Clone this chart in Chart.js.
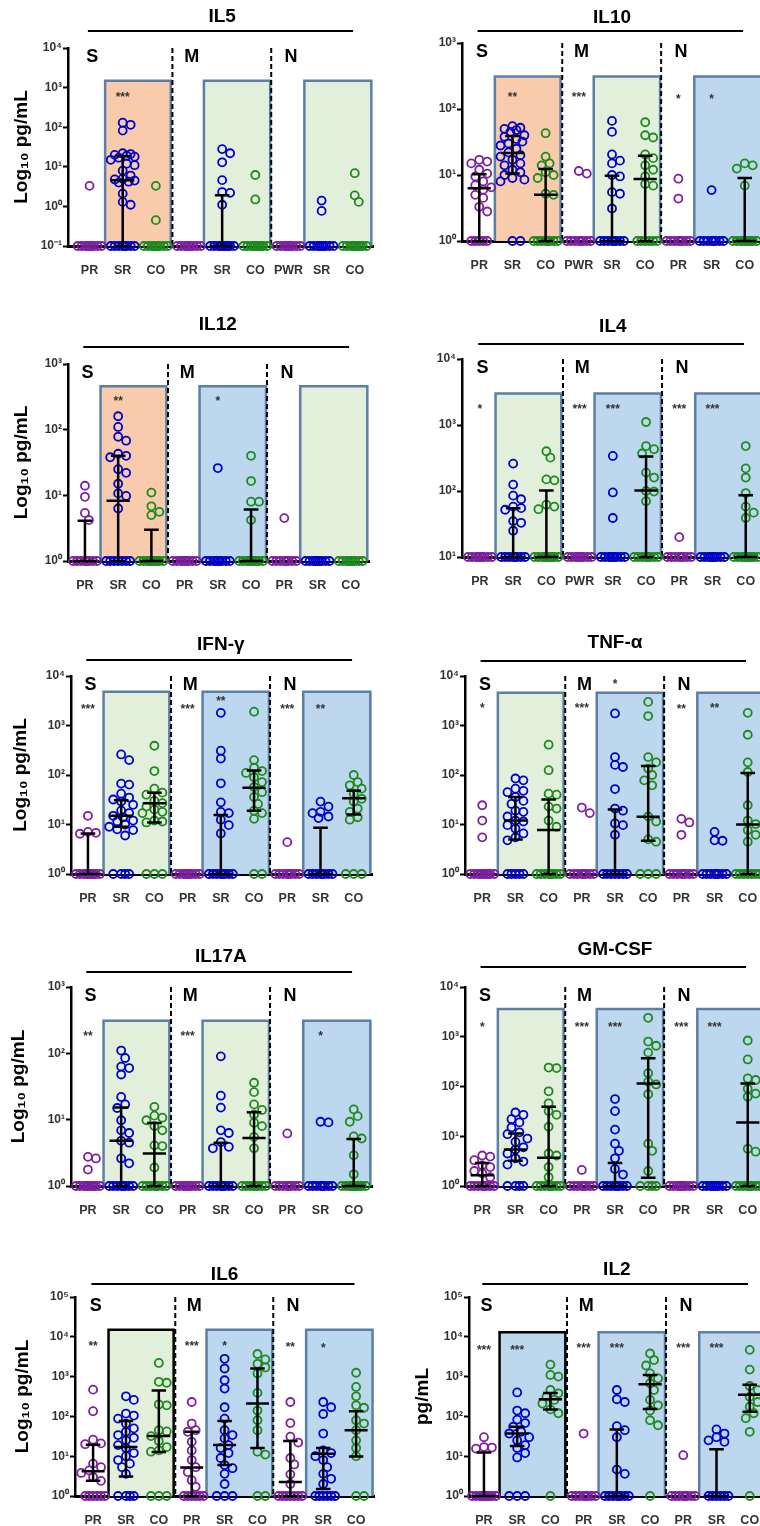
<!DOCTYPE html>
<html lang="pt">
<head>
<meta charset="utf-8">
<title>Citocinas</title>
<script src="https://cdn.jsdelivr.net/npm/chart.js@4.4.1/dist/chart.umd.min.js"></script>
<style>
  html, body { margin: 0; padding: 0; background: #fff; }
  #painel { position: relative; width: 760px; height: 1526px; overflow: hidden; }
  #painel canvas { position: absolute; }
</style>
</head>
<body>
<div id="painel"></div>
<script>
// categorias (eixo x)
const catsPadrao = ['PR', 'SR', 'CO', 'PR', 'SR', 'CO', 'PR', 'SR', 'CO'];
const il5Cats = ['PR', 'SR', 'CO', 'PR', 'SR', 'CO', 'PWR', 'SR', 'CO'];
const il10Cats = ['PR', 'SR', 'CO', 'PWR', 'SR', 'CO', 'PR', 'SR', 'CO'];

// IL5 (pg/mL, limite 0.1)
const il5Vals = [
  [3.3, 0.1, 0.1, 0.1, 0.1, 0.1, 0.1, 0.1, 0.1, 0.1],
  [130, 115, 82, 22, 21, 20, 19, 18, 17, 15, 12, 11, 8, 6, 5, 4.8, 4.5, 4.2, 4, 2.1, 1.3, 1.1, 0.1, 0.1, 0.1, 0.1, 0.1, 0.1, 0.1, 0.1],
  [3.3, 0.45, 0.1, 0.1, 0.1, 0.1, 0.1, 0.1, 0.1, 0.1, 0.1],
  [0.1, 0.1, 0.1, 0.1, 0.1, 0.1, 0.1, 0.1, 0.1],
  [28, 22, 13, 4.6, 2.3, 2.2, 1.1, 0.1, 0.1, 0.1, 0.1, 0.1, 0.1, 0.1, 0.1, 0.1, 0.1],
  [6.2, 1.5, 0.1, 0.1, 0.1, 0.1, 0.1, 0.1, 0.1, 0.1, 0.1, 0.1],
  [0.1, 0.1, 0.1, 0.1, 0.1, 0.1, 0.1, 0.1, 0.1],
  [1.4, 0.77, 0.1, 0.1, 0.1, 0.1, 0.1, 0.1, 0.1, 0.1, 0.1],
  [6.9, 1.9, 1.3, 0.1, 0.1, 0.1, 0.1, 0.1, 0.1, 0.1, 0.1, 0.1, 0.1]
];
const il5Med = [0.1, 4.6, 0.1, 0.1, 0.1, 0.1, 0.1, 0.1, 0.1];
const il5Q1 = [0.1, 0.1, 0.1, 0.1, 0.1, 0.1, 0.1, 0.1, 0.1];
const il5Q3 = [0.1, 18.6, 0.1, 0.1, 1.9, 0.1, 0.1, 0.1, 0.1];
const il5Stars = ['', '***', '', '', '', '', '', '', ''];
const il5StarY = [0, 620, 0, 0, 0, 0, 0, 0, 0];

// IL10
const il10Vals = [
  [17, 16, 15, 12, 10.5, 9.5, 8, 7, 6.5, 6, 5, 4.5, 3.3, 2.8, 1, 1, 1, 1, 1],
  [55, 52, 50, 48, 45, 40, 38, 35, 32, 30, 28, 25, 22, 20, 19, 17, 15, 14, 12, 11, 10, 9, 8.5, 8, 1, 1],
  [43, 19, 15, 14, 11, 10, 9, 5.2, 5, 1, 1, 1, 1, 1, 1, 1, 1],
  [11.5, 10.5, 1, 1, 1, 1, 1, 1, 1, 1],
  [66, 45, 20.5, 16.5, 15, 10, 9.5, 5.5, 5.2, 3.1, 1, 1, 1, 1, 1, 1, 1, 1],
  [63, 40, 37, 20.5, 18, 14, 12, 9.5, 7.3, 6.9, 1, 1, 1, 1, 1, 1],
  [8.8, 4.4, 1, 1, 1, 1, 1, 1, 1, 1],
  [5.9, 1, 1, 1, 1, 1, 1, 1, 1],
  [15, 14, 12.5, 6.9, 1, 1, 1, 1, 1, 1, 1, 1, 1, 1]
];
const il10Med = [6.3, 21.6, 5.0, 1, 1, 8.7, 1, 1, 1];
const il10Q1 = [1, 10.5, 1, 1, 1, 1, 1, 1, 1];
const il10Q3 = [10.3, 39, 12.3, 1, 9.7, 19.6, 1, 1, 9.0];
const il10Stars = ['', '**', '', '***', '', '', '*', '*', ''];
const il10StarY = [0, 160, 0, 160, 0, 0, 148, 148, 0];

// IL12
const il12Vals = [
  [14, 9.5, 5.4, 4.2, 1, 1, 1, 1, 1, 1, 1, 1],
  [160, 110, 78, 68, 43, 40, 38, 25, 22, 15, 10.7, 9.8, 6.3, 1, 1, 1, 1, 1, 1, 1],
  [11, 6.8, 5.6, 5, 1, 1, 1, 1, 1, 1, 1, 1, 1, 1],
  [1, 1, 1, 1, 1, 1, 1, 1, 1],
  [26, 1, 1, 1, 1, 1, 1, 1, 1, 1],
  [40, 16.5, 8, 8, 4.2, 1, 1, 1, 1, 1, 1, 1, 1, 1, 1],
  [4.5, 1, 1, 1, 1, 1, 1, 1, 1],
  [1, 1, 1, 1, 1, 1, 1, 1, 1],
  [1, 1, 1, 1, 1, 1, 1, 1, 1]
];
const il12Med = [1, 8.3, 1, 1, 1, 1, 1, 1, 1];
const il12Q1 = [1, 1, 1, 1, 1, 1, 1, 1, 1];
const il12Q3 = [4.1, 40, 3.0, 1, 1, 6.1, 1, 1, 1];
const il12Stars = ['', '**', '', '', '*', '', '', '', ''];
const il12StarY = [0, 290, 0, 0, 290, 0, 0, 0, 0];

// IL4 (limite 10)
const il4Vals = [
  [10, 10, 10, 10, 10, 10, 10, 10, 10],
  [260, 125, 85, 75, 58, 55, 52, 35, 33, 25, 10, 10, 10, 10, 10, 10, 10, 10],
  [400, 320, 150, 145, 62, 58, 53, 10, 10, 10, 10, 10, 10, 10, 10, 10, 10],
  [10, 10, 10, 10, 10, 10, 10, 10, 10],
  [340, 95, 39, 10, 10, 10, 10, 10, 10, 10, 10, 10],
  [1110, 480, 430, 370, 190, 160, 100, 98, 70, 10, 10, 10, 10, 10, 10, 10, 10],
  [20, 10, 10, 10, 10, 10, 10, 10, 10],
  [10, 10, 10, 10, 10, 10, 10, 10, 10],
  [480, 220, 160, 93, 58, 47, 39, 10, 10, 10, 10, 10, 10, 10, 10, 10, 10]
];
const il4Med = [10, 10, 10, 10, 10, 102, 10, 10, 10];
const il4Q1 = [10, 10, 10, 10, 10, 10, 10, 10, 10];
const il4Q3 = [10, 55, 102, 10, 10, 333, 10, 10, 86];
const il4Stars = ['*', '', '', '***', '***', '', '***', '***', ''];
const il4StarY = [1860, 0, 0, 1860, 1860, 0, 1860, 1860, 0];

// IFN-γ
const ifnVals = [
  [15, 7.1, 6.8, 6.5, 1, 1, 1, 1, 1, 1, 1, 1, 1, 1],
  [260, 200, 67, 64, 42, 35, 32, 29, 25, 19, 17, 15, 14, 12, 11.5, 10, 9, 8, 7.7, 6, 1, 1, 1, 1],
  [390, 120, 53, 44, 40, 30, 27, 23, 20, 18, 17, 12, 11.5, 11, 1, 1, 1],
  [1, 1, 1, 1, 1, 1, 1, 1, 1],
  [1800, 310, 215, 68, 28, 18, 17, 12.5, 9.7, 6.6, 1, 1, 1, 1, 1, 1, 1, 1],
  [1900, 200, 140, 120, 110, 90, 72, 57, 45, 36, 26, 19, 17, 13, 1, 1],
  [4.4, 1, 1, 1, 1, 1, 1, 1, 1],
  [29, 23, 18, 17, 14.5, 13.5, 1, 1, 1, 1, 1, 1, 1, 1],
  [100, 72, 62, 53, 42, 33, 29, 21, 18, 14, 12.5, 1, 1, 1]
];
const ifnMed = [1, 15, 27, 1, 1, 55, 1, 1, 34];
const ifnQ1 = [1, 9, 11, 1, 1, 19, 1, 1, 16];
const ifnQ3 = [6.6, 31, 44, 1, 15.5, 124, 1, 8.6, 48];
const ifnStars = ['***', '', '', '***', '**', '', '***', '**', ''];
const ifnStarY = [2300, 0, 0, 2300, 3300, 0, 2300, 2300, 0];

// TNF-α
const tnfVals = [
  [24.5, 12, 5.5, 1, 1, 1, 1, 1, 1, 1, 1, 1, 1],
  [85, 78, 53, 48, 45, 36, 30, 26, 19, 18, 14.5, 12, 11.5, 9.7, 8.3, 6.6, 5.5, 4.8, 1, 1, 1, 1, 1],
  [410, 125, 42, 40, 23, 21, 12, 9, 1, 1, 1, 1, 1, 1, 1, 1],
  [22, 17, 1, 1, 1, 1, 1, 1, 1, 1],
  [1750, 230, 160, 145, 52, 21, 19, 10.5, 9.7, 6.2, 1, 1, 1, 1, 1, 1, 1],
  [3000, 1550, 230, 180, 135, 100, 78, 62, 14.5, 11.5, 5, 4.5, 1, 1, 1],
  [13, 11, 6.2, 1, 1, 1, 1, 1, 1, 1, 1],
  [7.1, 4.8, 4.7, 1, 1, 1, 1, 1, 1, 1, 1],
  [1800, 650, 180, 115, 24.5, 12, 10.2, 7.7, 6.2, 4.5, 1, 1, 1, 1, 1, 1, 1]
];
const tnfMed = [1, 12, 7.7, 1, 1, 14.4, 1, 1, 10];
const tnfQ1 = [1, 5, 1, 1, 1, 4.7, 1, 1, 1];
const tnfQ3 = [1, 36, 32, 1, 20, 152, 1, 1, 110];
const tnfStars = ['*', '', '', '***', '*', '', '**', '**', ''];
const tnfStarY = [2400, 0, 0, 2400, 7200, 0, 2300, 2400, 0];

// IL17A
const il17Vals = [
  [2.75, 2.6, 1.77, 1, 1, 1, 1, 1, 1, 1, 1, 1, 1],
  [110, 85, 63, 60, 48, 22, 17, 15, 9.8, 6.9, 6.3, 4.8, 4.5, 2.6, 2.2, 1, 1, 1, 1, 1, 1, 1, 1],
  [15.6, 11.5, 10.7, 9.8, 8, 6.9, 4.1, 4.0, 1.9, 1, 1, 1, 1, 1, 1, 1, 1],
  [1, 1, 1, 1, 1, 1, 1, 1, 1],
  [90, 23, 15.2, 6.9, 6.3, 4.6, 3.9, 3.7, 1, 1, 1, 1, 1, 1, 1, 1],
  [36, 26, 17, 14, 12, 9, 8, 5.5, 3.7, 1, 1, 1, 1, 1, 1, 1, 1],
  [6.2, 1, 1, 1, 1, 1, 1, 1, 1],
  [9.3, 9.1, 1, 1, 1, 1, 1, 1, 1, 1],
  [14.3, 11.3, 9.3, 5.6, 5.2, 2.9, 1.5, 1, 1, 1, 1, 1, 1, 1, 1, 1, 1]
];
const il17Med = [1, 4.8, 3.1, 1, 1, 5.3, 1, 1, 1];
const il17Q1 = [1, 1, 1, 1, 1, 1, 1, 1, 1];
const il17Q3 = [1, 15.2, 8.9, 1, 4.5, 12.9, 1, 1, 5.1];
const il17Stars = ['**', '', '', '***', '', '', '', '*', ''];
const il17StarY = [190, 0, 0, 190, 0, 0, 0, 190, 0];

// GM-CSF
const gmVals = [
  [4.1, 3.9, 3.3, 2.6, 2.4, 2.0, 1.8, 1.5, 1, 1, 1, 1, 1, 1, 1, 1],
  [30, 27, 22, 19, 15, 12, 11, 9, 7.7, 6, 5.4, 4.5, 3.6, 3.1, 2.7, 1, 1, 1, 1],
  [240, 235, 80, 46, 32, 27, 15.5, 4.5, 4.1, 2.4, 1.5, 1, 1, 1, 1, 1, 1, 1, 1],
  [2.1, 1, 1, 1, 1, 1, 1, 1, 1],
  [56, 32, 13.6, 7.1, 5.1, 3.6, 2.2, 1.7, 1, 1, 1, 1, 1, 1, 1, 1],
  [2400, 800, 660, 480, 185, 125, 110, 70, 7.1, 5.1, 2.0, 1, 1, 1, 1],
  [1, 1, 1, 1, 1, 1, 1, 1, 1],
  [1, 1, 1, 1, 1, 1, 1, 1, 1],
  [840, 350, 145, 135, 90, 72, 62, 5.6, 4.9, 1, 1, 1, 1, 1, 1, 1, 1]
];
const gmMed = [1.64, 5.4, 3.7, 1, 1, 115, 1, 1, 19];
const gmQ1 = [1, 3.2, 1, 1, 1, 1.47, 1, 1, 1];
const gmQ3 = [2.9, 11.4, 39, 1, 2.9, 370, 1, 1, 115];
const gmStars = ['*', '', '', '***', '***', '', '***', '***', ''];
const gmStarY = [1700, 0, 0, 1700, 1700, 0, 1700, 1700, 0];

// IL6
const il6Vals = [
  [470, 135, 26, 21, 20, 6.5, 5.3, 4.4, 3.8, 3.0, 2.4, 1, 1, 1, 1, 1, 1],
  [320, 260, 118, 105, 88, 66, 50, 41, 34, 29, 25, 19, 16, 12, 10, 8, 6.5, 5.3, 3.6, 1, 1, 1, 1],
  [2200, 740, 700, 200, 190, 45, 42, 32, 24, 17, 14, 13, 1, 1, 1],
  [230, 66, 45, 41, 23, 14, 8, 5.3, 4, 2.5, 1.7, 1, 1, 1, 1, 1, 1],
  [2800, 1600, 810, 500, 170, 88, 45, 34, 28, 19, 16, 12, 9, 6, 5, 3.6, 2.0, 1, 1, 1],
  [3700, 2700, 2100, 1700, 1200, 390, 140, 80, 45, 13, 11, 1, 1],
  [230, 68, 31, 22, 9, 6.2, 3.5, 2.0, 1, 1, 1, 1, 1, 1, 1],
  [230, 170, 115, 37, 14, 12, 10, 8, 5.3, 3.6, 2.7, 2.0, 1, 1, 1, 1, 1, 1],
  [1250, 550, 320, 190, 165, 80, 66, 45, 25, 16, 10, 1, 1]
];
const il6Med = [4.2, 17, 32, 5.2, 19, 210, 2.25, 11.5, 45];
const il6Q1 = [2.4, 3.1, 12.7, 1, 6, 16, 1, 1.5, 9.8];
const il6Q3 = [19.5, 77, 450, 41, 77, 1600, 24, 16, 135];
const il6Stars = ['**', '', '', '***', '*', '', '**', '*', ''];
const il6StarY = [6500, 0, 0, 6300, 6500, 0, 6000, 5800, 0];

// IL2
const il2Vals = [
  [30, 17, 16.5, 15.5, 1, 1, 1, 1, 1, 1, 1, 1, 1, 1],
  [400, 140, 120, 83, 68, 55, 41, 37, 30, 25, 19, 16, 12, 9.3, 1, 1, 1],
  [2000, 1100, 1000, 460, 380, 310, 260, 210, 150, 120, 1],
  [37, 1, 1, 1, 1, 1, 1, 1, 1],
  [460, 270, 230, 57, 45, 30, 4.6, 3.6, 1, 1, 1, 1, 1, 1, 1, 1],
  [3800, 2600, 1900, 1200, 900, 680, 460, 260, 190, 140, 80, 60, 1],
  [10.6, 1, 1, 1, 1, 1, 1, 1, 1],
  [47, 37, 30, 25, 23, 1, 1, 1, 1, 1, 1],
  [4700, 1500, 580, 460, 310, 230, 175, 120, 90, 41, 1]
];
const il2Med = [1, 37, 270, 1, 1, 640, 1, 1, 350];
const il2Q1 = [1, 18, 150, 1, 1, 153, 1, 1, 130];
const il2Q3 = [12.4, 55, 390, 1, 47, 1100, 1, 15, 620];
const il2Stars = ['***', '***', '', '***', '***', '', '***', '***', ''];
const il2StarY = [5100, 5100, 0, 5600, 5600, 0, 5600, 5600, 0];

// estilos
const corRoxo = '#7E1FA3';
const corAzul = '#0000CC';
const corVerde = '#1C8A1C';
const coresCaixa = { laranja: '#F8CBAD', verde: '#E2EFDA', azul: '#BDD7EE' };
const borda = '#5B7FA6';
const faixasCaixa = [[0.47, 2.45], [3.45, 5.45], [6.48, 8.5]];
const tracejados = [2.5, 5.48];
const pxUnidade = 33.2;
const fonte = "'Liberation Sans', Arial, sans-serif";

Chart.defaults.font.family = fonte;

const paineis = [
  { titulo: 'IL5', cats: il5Cats, vals: il5Vals, med: il5Med, q1: il5Q1, q3: il5Q3, stars: il5Stars, starY: il5StarY,
    col: 0, axisX: 68, top: 48, bottom: 246, xmin: -0.65, ymin: -1, ymax: 4, caixaTop: 1500,
    caixas: ['laranja', 'verde', 'verde'], bordas: [borda, borda, borda], linhaDy: 17, tituloDy: 31, yTitulo: 'Log₁₀ pg/mL', yTituloX: 22 },
  { titulo: 'IL10', cats: il10Cats, vals: il10Vals, med: il10Med, q1: il10Q1, q3: il10Q3, stars: il10Stars, starY: il10StarY,
    col: 1, axisX: 462, top: 43, bottom: 241, xmin: -0.52, ymin: 0, ymax: 3, caixaTop: 310,
    caixas: ['laranja', 'verde', 'azul'], bordas: [borda, borda, borda], linhaDy: 12, tituloDy: 25, yTitulo: '', yTituloX: 0 },
  { titulo: 'IL12', cats: catsPadrao, vals: il12Vals, med: il12Med, q1: il12Q1, q3: il12Q3, stars: il12Stars, starY: il12StarY,
    col: 0, axisX: 68, top: 364, bottom: 561, xmin: -0.51, ymin: 0, ymax: 3, caixaTop: 460,
    caixas: ['laranja', 'azul', 'verde'], bordas: [borda, borda, borda], linhaDy: 17, tituloDy: 39, yTitulo: 'Log₁₀ pg/mL', yTituloX: 22 },
  { titulo: 'IL4', cats: il10Cats, vals: il4Vals, med: il4Med, q1: il4Q1, q3: il4Q3, stars: il4Stars, starY: il4StarY,
    col: 1, axisX: 462, top: 359, bottom: 557, xmin: -0.54, ymin: 1, ymax: 4, caixaTop: 3000,
    caixas: ['verde', 'azul', 'azul'], bordas: [borda, borda, borda], linhaDy: 15, tituloDy: 32, yTitulo: '', yTituloX: 0 },
  { titulo: 'IFN-γ', cats: catsPadrao, vals: ifnVals, med: ifnMed, q1: ifnQ1, q3: ifnQ3, stars: ifnStars, starY: ifnStarY,
    col: 0, axisX: 71, top: 676, bottom: 874, xmin: -0.51, ymin: 0, ymax: 4, caixaTop: 4800,
    caixas: ['verde', 'azul', 'azul'], bordas: [borda, borda, borda], linhaDy: 16, tituloDy: 31, yTitulo: 'Log₁₀ pg/mL', yTituloX: 21 },
  { titulo: 'TNF-α', cats: catsPadrao, vals: tnfVals, med: tnfMed, q1: tnfQ1, q3: tnfQ3, stars: tnfStars, starY: tnfStarY,
    col: 1, axisX: 465, top: 676, bottom: 874, xmin: -0.52, ymin: 0, ymax: 4, caixaTop: 4600,
    caixas: ['verde', 'azul', 'azul'], bordas: [borda, borda, borda], linhaDy: 15, tituloDy: 33, yTitulo: '', yTituloX: 0 },
  { titulo: 'IL17A', cats: catsPadrao, vals: il17Vals, med: il17Med, q1: il17Q1, q3: il17Q3, stars: il17Stars, starY: il17StarY,
    col: 0, axisX: 71, top: 987, bottom: 1186, xmin: -0.51, ymin: 0, ymax: 3, caixaTop: 310,
    caixas: ['verde', 'verde', 'azul'], bordas: [borda, borda, borda], linhaDy: 15, tituloDy: 30, yTitulo: 'Log₁₀ pg/mL', yTituloX: 19 },
  { titulo: 'GM-CSF', cats: catsPadrao, vals: gmVals, med: gmMed, q1: gmQ1, q3: gmQ3, stars: gmStars, starY: gmStarY,
    col: 1, axisX: 465, top: 987, bottom: 1186, xmin: -0.52, ymin: 0, ymax: 4, caixaTop: 3600,
    caixas: ['verde', 'azul', 'azul'], bordas: [borda, borda, borda], linhaDy: 20, tituloDy: 37, yTitulo: '', yTituloX: 0 },
  { titulo: 'IL6', cats: catsPadrao, vals: il6Vals, med: il6Med, q1: il6Q1, q3: il6Q3, stars: il6Stars, starY: il6StarY,
    col: 0, axisX: 75, top: 1297, bottom: 1496, xmin: -0.55, ymin: 0, ymax: 5, caixaTop: 15000,
    caixas: ['verde', 'azul', 'azul'], bordas: ['#000', borda, borda], linhaDy: 13, tituloDy: 22, yTitulo: 'Log₁₀ pg/mL', yTituloX: 23 },
  { titulo: 'IL2', cats: catsPadrao, vals: il2Vals, med: il2Med, q1: il2Q1, q3: il2Q3, stars: il2Stars, starY: il2StarY,
    col: 1, axisX: 469, top: 1297, bottom: 1496, xmin: -0.45, ymin: 0, ymax: 5, caixaTop: 13000,
    caixas: ['azul', 'azul', 'azul'], bordas: ['#000', borda, borda], linhaDy: 13, tituloDy: 27, yTitulo: 'pg/mL', yTituloX: 43 }
];

const sobrescrito = { '-': '⁻', '0': '⁰', '1': '¹', '2': '²', '3': '³', '4': '⁴', '5': '⁵' };

function corDaCategoria(c) {
  if (c === 'SR') return corAzul;
  if (c === 'CO') return corVerde;
  return corRoxo;
}

// espalha os pontos na horizontal para nao se sobreporem (so posicao)
function enxame(valores, pxDec) {
  const passos = [0, 0.12, -0.12, 0.24, -0.24, 0.36, -0.36, 0.06, -0.06, 0.18, -0.18, 0.30, -0.30];
  const postos = [];
  const offs = [];
  valores.forEach(function (v) {
    const py = Math.log10(v) * pxDec;
    let melhor = 0, melhorD = -1;
    for (const s of passos) {
      const px = s * pxUnidade;
      let dmin = Infinity;
      postos.forEach(function (p) {
        const d = Math.hypot(p[0] - px, p[1] - py);
        if (d < dmin) dmin = d;
      });
      if (dmin >= 7.5) { melhor = s; break; }
      if (dmin > melhorD) { melhorD = dmin; melhor = s; }
    }
    postos.push([melhor * pxUnidade, py]);
    offs.push(melhor);
  });
  return offs;
}

const decoracao = {
  id: 'decoracao',
  beforeDatasetsDraw(chart) {
    const p = chart.options.plugins.decoracao.painel;
    const ctx = chart.ctx, x = chart.scales.x, y = chart.scales.y, area = chart.chartArea;
    ctx.save();
    faixasCaixa.forEach(function (f, i) {
      const l = x.getPixelForValue(f[0]);
      const r = Math.min(x.getPixelForValue(f[1]), area.right);
      const t = y.getPixelForValue(p.caixaTop), b = area.bottom;
      ctx.fillStyle = coresCaixa[p.caixas[i]];
      ctx.fillRect(l, t, r - l, b - t);
      ctx.strokeStyle = p.bordas[i];
      ctx.lineWidth = 2.5;
      ctx.beginPath();
      ctx.moveTo(l, b); ctx.lineTo(l, t); ctx.lineTo(r, t); ctx.lineTo(r, b);
      ctx.stroke();
    });
    // separadores tracejados
    ctx.strokeStyle = '#000';
    ctx.lineWidth = 2;
    ctx.setLineDash([5, 3]);
    tracejados.forEach(function (v) {
      const px = x.getPixelForValue(v);
      ctx.beginPath();
      ctx.moveTo(px, area.top);
      ctx.lineTo(px, area.bottom);
      ctx.stroke();
    });
    ctx.restore();
  },
  afterDatasetsDraw(chart) {
    const p = chart.options.plugins.decoracao.painel;
    const ctx = chart.ctx, x = chart.scales.x, y = chart.scales.y, area = chart.chartArea;
    const u = x.getPixelForValue(1) - x.getPixelForValue(0);
    const piso = Math.pow(10, p.ymin);
    ctx.save();
    // mediana e intervalo interquartil
    ctx.strokeStyle = '#000';
    ctx.lineWidth = 2.5;
    for (let i = 0; i < p.cats.length; i++) {
      if (p.q3[i] <= piso && p.med[i] <= piso) continue;
      const cx = x.getPixelForValue(i);
      const ym = y.getPixelForValue(p.med[i]);
      const y1 = y.getPixelForValue(p.q1[i]);
      const y3 = y.getPixelForValue(p.q3[i]);
      ctx.beginPath();
      ctx.moveTo(cx, y1); ctx.lineTo(cx, y3);
      ctx.moveTo(cx - 0.35 * u, ym); ctx.lineTo(cx + 0.35 * u, ym);
      ctx.moveTo(cx - 0.22 * u, y3); ctx.lineTo(cx + 0.22 * u, y3);
      ctx.moveTo(cx - 0.22 * u, y1); ctx.lineTo(cx + 0.22 * u, y1);
      ctx.stroke();
    }
    // asteriscos
    ctx.fillStyle = '#333';
    ctx.font = 'bold 12px ' + fonte;
    ctx.textAlign = 'center';
    ctx.textBaseline = 'middle';
    p.stars.forEach(function (s, i) {
      if (s) ctx.fillText(s, x.getPixelForValue(i), y.getPixelForValue(p.starY[i]) + 2);
    });
    // letras dos grupos
    ctx.fillStyle = '#000';
    ctx.font = 'bold 18px ' + fonte;
    ['S', 'M', 'N'].forEach(function (l, k) {
      ctx.fillText(l, x.getPixelForValue(k * 3 + 0.08), area.top + 9);
    });
    // titulo e linha
    ctx.font = 'bold 19px ' + fonte;
    ctx.fillText(p.titulo, x.getPixelForValue(4), area.top - p.tituloDy);
    ctx.lineWidth = 2;
    ctx.beginPath();
    ctx.moveTo(x.getPixelForValue(-0.05), area.top - p.linhaDy);
    ctx.lineTo(x.getPixelForValue(7.95), area.top - p.linhaDy);
    ctx.stroke();
    ctx.restore();
  }
};

function criarPainel(p) {
  const colX = p.col === 0 ? 0 : 380;
  const W = p.col === 0 ? 380 : 400;
  const acima = 60, abaixo = 34;
  const H = (p.bottom - p.top) + acima + abaixo;
  const larguraY = p.axisX - colX;
  const larguraArea = Math.round((8.55 - p.xmin) * pxUnidade);

  const canvas = document.createElement('canvas');
  canvas.width = W;
  canvas.height = H;
  canvas.style.left = colX + 'px';
  canvas.style.top = (p.top - acima) + 'px';
  document.getElementById('painel').appendChild(canvas);

  const pxDec = (p.bottom - p.top) / (p.ymax - p.ymin);
  const datasets = p.vals.map(function (valores, i) {
    const offs = enxame(valores, pxDec);
    return {
      label: p.cats[i],
      data: valores.map(function (v, k) { return { x: i + offs[k], y: v }; }),
      pointStyle: 'circle',
      pointRadius: 4,
      pointBorderWidth: 1.8,
      pointBackgroundColor: 'rgba(255,255,255,0)',
      pointBorderColor: corDaCategoria(p.cats[i]),
      showLine: false,
      clip: false
    };
  });

  const config = {
    type: 'scatter',
    data: { datasets: datasets },
    options: {
      responsive: false,
      animation: false,
      events: [],
      layout: { padding: { top: acima, left: 0, bottom: 0, right: W - larguraY - larguraArea } },
      plugins: {
        legend: { display: false },
        tooltip: { enabled: false },
        decoracao: { painel: p }
      },
      scales: {
        x: {
          type: 'linear',
          min: p.xmin,
          max: 8.55,
          afterBuildTicks: function (axis) {
            axis.ticks = p.cats.map(function (c, i) { return { value: i }; });
          },
          afterFit: function (scale) { scale.height = abaixo; },
          ticks: {
            autoSkip: false,
            maxRotation: 0,
            padding: 9,
            color: '#333',
            font: { size: 12.5, weight: 'bold' },
            callback: function (v) { return p.cats[v]; }
          },
          grid: { display: false },
          border: { display: true, color: '#000', width: 3 }
        },
        y: {
          type: 'logarithmic',
          min: Math.pow(10, p.ymin),
          max: Math.pow(10, p.ymax),
          afterBuildTicks: function (axis) {
            const t = [];
            for (let e = p.ymin; e <= p.ymax; e++) t.push({ value: Math.pow(10, e), major: true });
            axis.ticks = t;
          },
          afterFit: function (scale) { scale.width = larguraY; },
          ticks: {
            padding: 1,
            color: '#333',
            font: { size: 12, weight: 'bold' },
            callback: function (v) {
              const e = String(Math.round(Math.log10(v)));
              return '10' + e.split('').map(function (ch) { return sobrescrito[ch]; }).join('');
            }
          },
          grid: { display: true, drawOnChartArea: false, drawTicks: true, tickLength: 5, tickColor: '#000', tickWidth: 2 },
          border: { display: true, color: '#000', width: 2.5 },
          title: {
            display: p.yTitulo !== '',
            text: p.yTitulo,
            color: '#000',
            font: { size: 19, weight: 'bold' },
            padding: { top: Math.max(p.yTituloX - 11.4, 0), bottom: 0 }
          }
        }
      }
    },
    plugins: [decoracao]
  };

  return new Chart(canvas, config);
}

paineis.forEach(criarPainel);
</script>
</body>
</html>
